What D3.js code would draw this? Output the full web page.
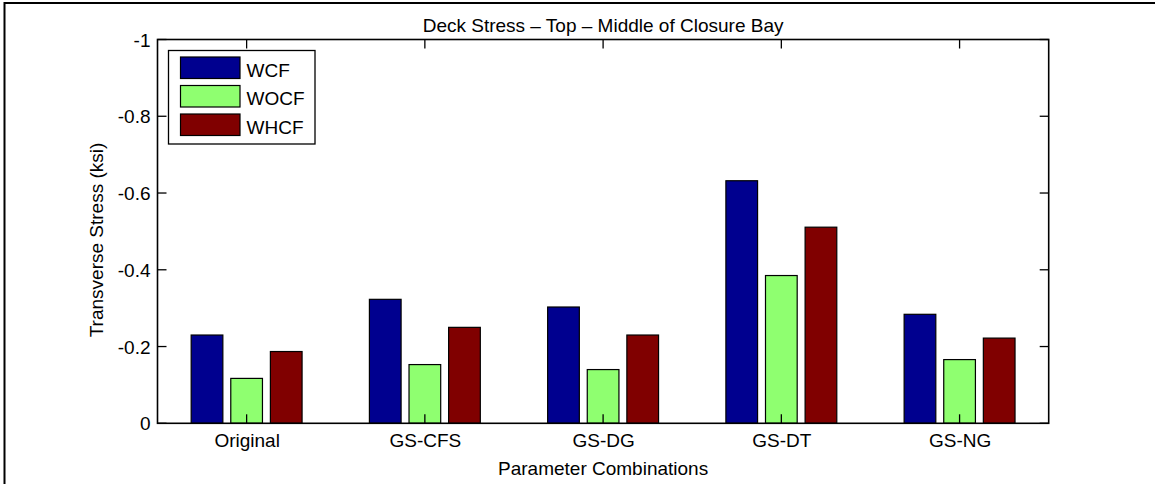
<!DOCTYPE html>
<html>
<head>
<meta charset="utf-8">
<script src="https://cdn.jsdelivr.net/npm/d3@7"></script>
<style>
  html, body { margin: 0; padding: 0; background: #fff; }
  svg { display: block; font-family: "Liberation Sans", Arial, sans-serif; }
</style>
</head>
<body>
<svg id="chart" width="1155" height="484"></svg>
<script>
// Transverse deck stress (ksi) at top, middle of closure bay
const categories = ["Original", "GS-CFS", "GS-DG", "GS-DT", "GS-NG"];
const seriesNames = ["WCF", "WOCF", "WHCF"];
const wcf  = [-0.230, -0.323, -0.303, -0.632, -0.284];
const wocf = [-0.117, -0.153, -0.140, -0.385, -0.166];
const whcf = [-0.187, -0.250, -0.230, -0.511, -0.222];
const seriesColors = ["#00008f", "#8fff70", "#800000"];
const yTicks = [0, -0.2, -0.4, -0.6, -0.8, -1];
const titleText = "Deck Stress \u2013 Top \u2013 Middle of Closure Bay";
const xLabelText = "Parameter Combinations";
const yLabelText = "Transverse Stress (ksi)";

const series = [wcf, wocf, whcf];

const svg = d3.select("#chart");
const plot = { left: 157.5, right: 1048.7, top: 39.5, bottom: 423.3 };
const fontSize = 19;

// figure frame
svg.append("rect")
  .attr("x", 4.5).attr("y", 3)
  .attr("width", 1300).attr("height", 600)
  .attr("fill", "none").attr("stroke", "#000").attr("stroke-width", 2);

// categories sit at 1..5, axis spans 0.5..5.5
const x = d3.scaleLinear().domain([0.5, categories.length + 0.5]).range([plot.left, plot.right]);
const y = d3.scaleLinear().domain([0, -1]).range([plot.bottom, plot.top]);

// grouped bar geometry in category units
const nS = series.length;
const groupWidth = Math.min(0.8, nS / (nS + 1.5));
const barW = groupWidth / nS * 0.8;
const offset = i => (i - (nS - 1) / 2) * groupWidth / nS;

const bars = [];
series.forEach((vals, si) => {
  vals.forEach((v, ci) => bars.push({ si, ci, v }));
});

svg.append("g").selectAll("rect")
  .data(bars)
  .join("rect")
  .attr("x", d => x(d.ci + 1 + offset(d.si) - barW / 2))
  .attr("width", d => x(d.ci + 1 + offset(d.si) + barW / 2) - x(d.ci + 1 + offset(d.si) - barW / 2))
  .attr("y", d => y(d.v))
  .attr("height", d => y(0) - y(d.v))
  .attr("fill", d => seriesColors[d.si])
  .attr("stroke", "#000")
  .attr("stroke-width", 1.2);

// axes with inward ticks on all four sides
const tickLen = 9;
const fmt = v => (v === 0 ? "0" : String(v)).replace("\u2212", "-");
const xTickVals = categories.map((c, i) => i + 1);

const axBottom = d3.axisBottom(x).tickValues(xTickVals).tickSize(0).tickPadding(0)
  .tickFormat((d, i) => categories[i]);
const gB = svg.append("g").attr("transform", `translate(0,${plot.bottom})`).call(axBottom);
gB.select(".domain").remove();
gB.selectAll("text").attr("dy", null).attr("y", 24)
  .attr("font-size", fontSize).attr("font-family", "Liberation Sans, Arial, sans-serif").attr("fill", "#000");

const axLeft = d3.axisLeft(y).tickValues(yTicks).tickSize(0).tickPadding(0).tickFormat(fmt);
const gL = svg.append("g").attr("transform", `translate(${plot.left},0)`).call(axLeft);
gL.select(".domain").remove();
gL.selectAll("text").attr("x", -7).attr("dy", "0.35em")
  .attr("font-size", fontSize).attr("font-family", "Liberation Sans, Arial, sans-serif").attr("fill", "#000");

const tickG = svg.append("g").attr("stroke", "#000").attr("stroke-width", 1.3);
yTicks.forEach(v => {
  tickG.append("line").attr("x1", plot.left).attr("x2", plot.left + tickLen).attr("y1", y(v)).attr("y2", y(v));
  tickG.append("line").attr("x1", plot.right).attr("x2", plot.right - tickLen).attr("y1", y(v)).attr("y2", y(v));
});
xTickVals.forEach(v => {
  tickG.append("line").attr("x1", x(v)).attr("x2", x(v)).attr("y1", plot.top).attr("y2", plot.top + tickLen);
  tickG.append("line").attr("x1", x(v)).attr("x2", x(v)).attr("y1", plot.bottom).attr("y2", plot.bottom - tickLen);
});

// axes box
svg.append("rect")
  .attr("x", plot.left).attr("y", plot.top)
  .attr("width", plot.right - plot.left).attr("height", plot.bottom - plot.top)
  .attr("fill", "none").attr("stroke", "#000").attr("stroke-width", 1.6);

// title and axis labels
svg.append("text")
  .attr("x", (plot.left + plot.right) / 2).attr("y", 32)
  .attr("text-anchor", "middle").attr("font-size", fontSize)
  .text(titleText);

svg.append("text")
  .attr("x", (plot.left + plot.right) / 2).attr("y", 475)
  .attr("text-anchor", "middle").attr("font-size", fontSize)
  .text(xLabelText);

svg.append("text")
  .attr("transform", `translate(102.5,${240}) rotate(-90)`)
  .attr("text-anchor", "middle").attr("font-size", fontSize)
  .text(yLabelText);

// legend
const leg = svg.append("g");
leg.append("rect")
  .attr("x", 168.5).attr("y", 50.5).attr("width", 146.5).attr("height", 93.5)
  .attr("fill", "#fff").attr("stroke", "#000").attr("stroke-width", 1.3);
seriesNames.forEach((name, i) => {
  const yy = 57 + i * 28.5;
  leg.append("rect")
    .attr("x", 180.5).attr("y", yy).attr("width", 59.5).attr("height", 21.5)
    .attr("fill", seriesColors[i]).attr("stroke", "#000").attr("stroke-width", 1.2);
  leg.append("text")
    .attr("x", 246.5).attr("y", yy + 19.5)
    .attr("font-size", fontSize)
    .text(name);
});
</script>
</body>
</html>
